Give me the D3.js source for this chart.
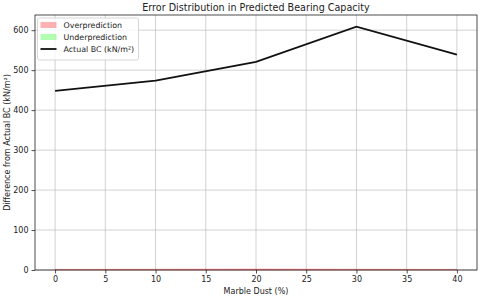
<!DOCTYPE html>
<html><head><meta charset="utf-8">
<script src="https://cdn.jsdelivr.net/npm/d3@7"></script>
<style>body{margin:0;background:#fff}svg{display:block}text{font-family:"DejaVu Sans",sans-serif;fill:#222}</style>
</head><body>
<svg id="c" width="480" height="297"></svg>
<script>
const marbleDust = [0, 10, 20, 30, 40];
const actualBC = [448, 474, 521, 609, 539];
const overPrediction = [1.5, 2, 2.5, 2, 1.5];
const underPrediction = [0, 0, 0, 0, 0];
const xTicks = [0, 5, 10, 15, 20, 25, 30, 35, 40];
const yTicks = [0, 100, 200, 300, 400, 500, 600];
const legendLabels = ["Overprediction", "Underprediction", "Actual BC (kN/m²)"];

const svg = d3.select("#c");
const L = 35, R = 477, T = 15, B = 270;
const x = d3.scaleLinear().domain([-2, 42]).range([L, R]);
const y = d3.scaleLinear().domain([0, 638]).range([B, T]);

// grid
svg.append("g").selectAll("line").data(xTicks).join("line")
  .attr("x1", d => x(d)).attr("x2", d => x(d)).attr("y1", T).attr("y2", B)
  .attr("stroke", "#b0b0b0").attr("stroke-width", 0.8).attr("opacity", 0.7);
svg.append("g").selectAll("line").data(yTicks).join("line")
  .attr("x1", L).attr("x2", R).attr("y1", d => y(d)).attr("y2", d => y(d))
  .attr("stroke", "#b0b0b0").attr("stroke-width", 0.8).attr("opacity", 0.7);

// fills
const areaOver = d3.area().x((d, i) => x(marbleDust[i])).y0(y(0)).y1(d => y(d));
svg.append("path").datum(overPrediction).attr("d", areaOver)
  .attr("fill", "red").attr("fill-opacity", 0.3).attr("stroke", "red").attr("stroke-opacity", 0.3).attr("stroke-width", 0.8);
svg.append("path").datum(underPrediction).attr("d", areaOver)
  .attr("fill", "lime").attr("fill-opacity", 0.3);

// line
const line = d3.line().x((d, i) => x(marbleDust[i])).y(d => y(d));
svg.append("path").datum(actualBC).attr("d", line)
  .attr("fill", "none").attr("stroke", "#111").attr("stroke-width", 1.8);

// axes
const xa = svg.append("g").attr("transform", `translate(0,${B})`)
  .call(d3.axisBottom(x).tickValues(xTicks).tickSize(3.5).tickPadding(3));
const ya = svg.append("g").attr("transform", `translate(${L},0)`)
  .call(d3.axisLeft(y).tickValues(yTicks).tickSize(3.5).tickPadding(3));
[xa, ya].forEach(a => { a.selectAll("text").attr("font-size", 8).attr("font-family", "DejaVu Sans").attr("fill", "#222"); a.select(".domain").remove(); a.selectAll("line").attr("stroke", "#222").attr("stroke-width", 0.8); });

svg.append("rect").attr("x", L).attr("y", T).attr("width", R - L).attr("height", B - T)
  .attr("fill", "none").attr("stroke", "#222").attr("stroke-width", 0.8);

// title & labels
svg.append("text").attr("x", (L + R) / 2).attr("y", 11).attr("text-anchor", "middle").attr("font-size", 9.6).text("Error Distribution in Predicted Bearing Capacity");
svg.append("text").attr("x", (L + R) / 2).attr("y", 294).attr("text-anchor", "middle").attr("font-size", 8).text("Marble Dust (%)");
svg.append("text").attr("transform", `translate(10,${(T + B) / 2}) rotate(-90)`).attr("text-anchor", "middle").attr("font-size", 8).text("Difference from Actual BC (kN/m²)");

// legend
const lg = svg.append("g").attr("transform", `translate(${L + 2.5},${T + 3})`);
lg.append("rect").attr("width", 101).attr("height", 42).attr("rx", 2).attr("fill", "#fff").attr("fill-opacity", 0.8).attr("stroke", "#ccc").attr("stroke-width", 0.8);
const sw = [{ t: "patch", c: "rgba(255,0,0,0.3)" }, { t: "patch", c: "rgba(0,255,0,0.3)" }, { t: "line", c: "#111" }];
legendLabels.forEach((lab, i) => {
  const cy = 7 + i * 12;
  if (sw[i].t === "patch") lg.append("rect").attr("x", 3).attr("y", cy - 3).attr("width", 16).attr("height", 6).attr("fill", sw[i].c);
  else lg.append("line").attr("x1", 3).attr("x2", 19).attr("y1", cy).attr("y2", cy).attr("stroke", sw[i].c).attr("stroke-width", 1.8);
  lg.append("text").attr("x", 26).attr("y", cy + 3).attr("font-size", 7.9).text(lab);
});
</script>
</body></html>
